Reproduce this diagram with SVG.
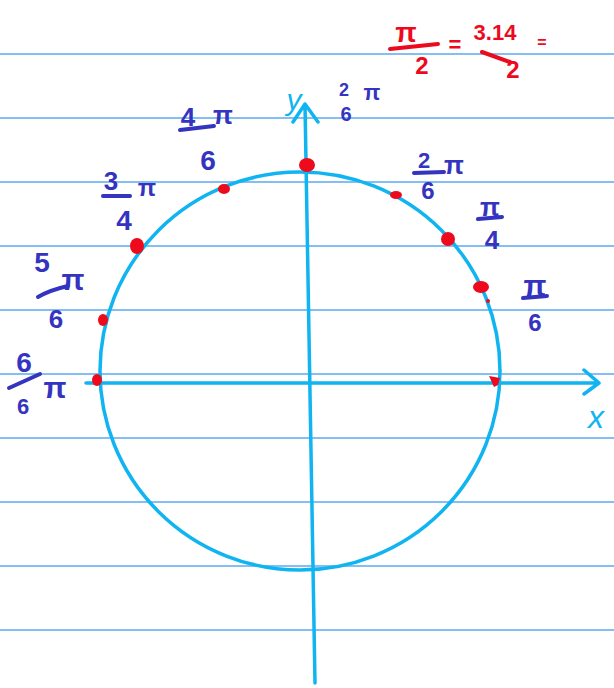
<svg xmlns="http://www.w3.org/2000/svg" width="614" height="688" viewBox="0 0 614 688">
<style>
.rule{stroke:#5aa8f2;stroke-width:1.5;fill:none}
.ax{stroke:#10b4f0;stroke-width:3.5;fill:none;stroke-linecap:round;stroke-linejoin:round}
.lb{fill:#3434c0;font-family:"Liberation Sans",Arial,sans-serif;font-weight:bold;text-anchor:middle}
.bar{stroke:#3434c0;stroke-width:4;stroke-linecap:round;fill:none}
.rd{fill:#ec0a1c}
.rt{fill:#ec0a1c;font-family:"Liberation Sans",Arial,sans-serif;font-weight:bold;text-anchor:middle}
.rbar{stroke:#ec0a1c;stroke-width:4;stroke-linecap:round;fill:none}
.axl{fill:#10b4f0;font-family:"Liberation Sans",Arial,sans-serif;font-style:italic;text-anchor:middle}
</style>
<rect width="614" height="688" fill="#ffffff"/>
<g id="ruled-lines">
<line class="rule" x1="0" y1="54" x2="614" y2="54"/>
<line class="rule" x1="0" y1="118" x2="614" y2="118"/>
<line class="rule" x1="0" y1="182" x2="614" y2="182"/>
<line class="rule" x1="0" y1="246" x2="614" y2="246"/>
<line class="rule" x1="0" y1="310" x2="614" y2="310"/>
<line class="rule" x1="0" y1="374" x2="614" y2="374"/>
<line class="rule" x1="0" y1="438" x2="614" y2="438"/>
<line class="rule" x1="0" y1="502" x2="614" y2="502"/>
<line class="rule" x1="0" y1="566" x2="614" y2="566"/>
<line class="rule" x1="0" y1="630" x2="614" y2="630"/>
</g>
<g id="circle">
<ellipse class="ax" cx="300" cy="371" rx="200" ry="199"/>
</g>
<g id="axes">
<path class="ax" d="M86 383 L599 383 M584 370 L599 383 L584 394"/>
<path class="ax" d="M315 683 L305 104 M293 122 L305 104 L318 122"/>
<text class="axl" x="596" y="428" font-size="32">x</text>
<text class="axl" x="294" y="110" font-size="30">y</text>
</g>
<g id="points">
<ellipse class="rd" cx="307" cy="165" rx="8" ry="7"/>
<ellipse class="rd" cx="224" cy="189" rx="6" ry="5"/>
<ellipse class="rd" cx="137" cy="246" rx="7" ry="8"/>
<ellipse class="rd" cx="103" cy="320" rx="5" ry="6"/>
<ellipse class="rd" cx="97" cy="380" rx="5" ry="6"/>
<ellipse class="rd" cx="396" cy="195" rx="6" ry="4"/>
<ellipse class="rd" cx="448" cy="239" rx="7" ry="7"/>
<ellipse class="rd" cx="481" cy="287" rx="8" ry="6"/>
<ellipse class="rd" cx="488" cy="301" rx="2" ry="2"/>
<path class="rd" d="M489 376 L500 378 L498 385 L494 387 Z"/>
</g>
<g id="label-top">
<text class="lb" x="344" y="96" font-size="18">2</text>
<text class="lb" x="346" y="121" font-size="20">6</text>
<text class="lb" x="372" y="100" font-size="22">π</text>
</g>
<g id="label-4pi6">
<text class="lb" x="188" y="126" font-size="26">4</text>
<text class="lb" x="223" y="124" font-size="26">π</text>
<line class="bar" x1="180" y1="130" x2="214" y2="126"/>
<text class="lb" x="208" y="170" font-size="28">6</text>
</g>
<g id="label-3pi4">
<text class="lb" x="111" y="190" font-size="26">3</text>
<line class="bar" x1="103" y1="196" x2="130" y2="196"/>
<text class="lb" x="124" y="230" font-size="28">4</text>
<text class="lb" x="147" y="196" font-size="24">π</text>
</g>
<g id="label-5pi6">
<text class="lb" x="42" y="272" font-size="28">5</text>
<text class="lb" x="73" y="290" font-size="30">π</text>
<path class="bar" d="M38 297 Q50 290 68 286"/>
<text class="lb" x="56" y="328" font-size="26">6</text>
</g>
<g id="label-6pi6">
<text class="lb" x="24" y="372" font-size="28">6</text>
<line class="bar" x1="9" y1="388" x2="40" y2="374"/>
<text class="lb" x="55" y="398" font-size="30">π</text>
<text class="lb" x="23" y="414" font-size="22">6</text>
</g>
<g id="label-2pi6">
<text class="lb" x="424" y="168" font-size="22">2</text>
<line class="bar" x1="414" y1="173" x2="444" y2="172"/>
<text class="lb" x="428" y="199" font-size="24">6</text>
<text class="lb" x="454" y="174" font-size="26">π</text>
</g>
<g id="label-pi4">
<text class="lb" x="490" y="216" font-size="26">π</text>
<line class="bar" x1="478" y1="219" x2="502" y2="217"/>
<text class="lb" x="492" y="249" font-size="26">4</text>
</g>
<g id="label-pi6">
<text class="lb" x="535" y="296" font-size="30">π</text>
<line class="bar" x1="523" y1="298" x2="547" y2="296"/>
<text class="lb" x="535" y="331" font-size="24">6</text>
</g>
<g id="note">
<text class="rt" x="406" y="42" font-size="28">π</text>
<line class="rbar" x1="390" y1="49" x2="438" y2="44"/>
<text class="rt" x="422" y="74" font-size="24">2</text>
<text class="rt" x="455" y="52" font-size="22">=</text>
<text class="rt" x="495" y="40" font-size="22">3.14</text>
<line class="rbar" x1="482" y1="52" x2="510" y2="62"/>
<text class="rt" x="513" y="78" font-size="24">2</text>
<text class="rt" x="542" y="48" font-size="16">=</text>
</g>
</svg>
